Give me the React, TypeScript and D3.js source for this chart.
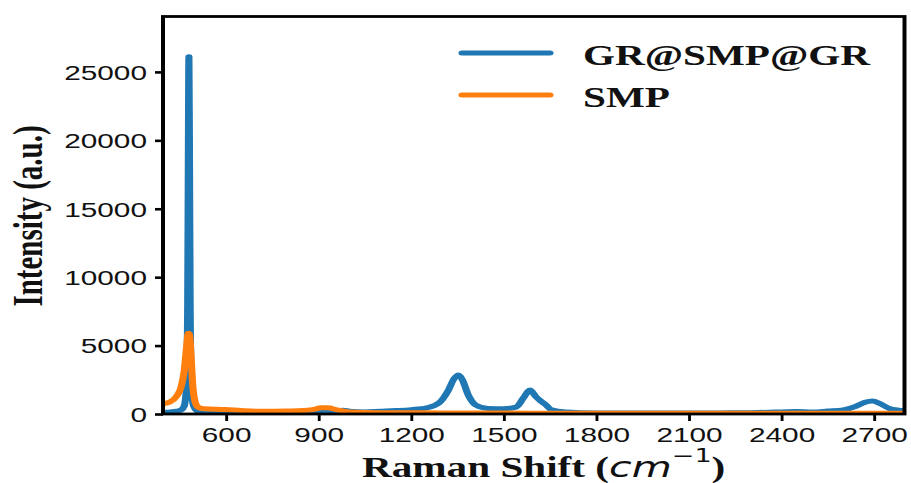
import React, { useEffect, useRef } from 'react';
import * as d3 from 'd3';

const xTicks = [600, 900, 1200, 1500, 1800, 2100, 2400, 2700];
const yTicks = [0, 5000, 10000, 15000, 20000, 25000];
const seriesNames = ['GR@SMP@GR', 'SMP'];
const seriesColors = ['#1f77b4', '#ff7f0e'];

// GR@SMP@GR spectrum
const grShift = [
  396, 420, 440, 455, 465, 472, 476, 478, 480, 482, 484, 488, 495, 505, 520, 560, 600, 700, 800, 900,
  950, 980, 1000, 1050, 1100, 1150, 1200, 1250, 1290, 1320, 1340, 1353, 1366, 1385, 1410, 1450, 1500,
  1540, 1565, 1585, 1605, 1620, 1635, 1655, 1700, 1800, 1900, 2000, 2100, 2200, 2300, 2400, 2450, 2500,
  2550, 2600, 2640, 2670, 2695, 2720, 2750, 2780, 2799,
];
const grIntensity = [
  120, 150, 200, 300, 600, 2000, 8000, 18000, 26100, 18000, 8000, 2000, 600, 250, 120, 80, 80, 80, 90, 150,
  220, 280, 200, 150, 200, 250, 320, 450, 800, 1700, 2600, 2850, 2500, 1400, 650, 400, 380,
  500, 1200, 1750, 1250, 950, 700, 300, 150, 80, 70, 70, 70, 80, 100, 150, 180, 150,
  220, 300, 550, 850, 950, 750, 400, 280, 250,
];

// SMP spectrum
const smpShift = [
  396, 420, 440, 455, 465, 472, 478, 482, 487, 492, 500, 510, 530, 600, 650, 700, 800, 850, 880, 910,
  930, 960, 1000, 1100, 1300, 1600, 2000, 2400, 2799,
];
const smpIntensity = [
  750, 900, 1300, 2000, 3200, 4800, 5900, 5800, 4200, 2200, 900, 500, 380, 330, 250, 200, 220, 250, 320, 450,
  450, 300, 150, 100, 80, 60, 50, 50, 50,
];

const App = () => {
  const ref = useRef<SVGSVGElement>(null);

  useEffect(() => {
    const K = 1.42; // the picture is stretched sideways
    const W = 911;
    const H = 483;
    const VW = W / K;
    const left = 163 / K;
    const right = 904.5 / K;
    const top = 16.5;
    const bottom = 414;

    const svg = d3.select(ref.current);
    svg.selectAll('*').remove();

    const x = d3.scaleLinear().domain([396, 2799]).range([left, right]);
    const y = d3.scaleLinear().domain([0, 29050]).range([bottom, top]);

    svg.append('defs').append('clipPath').attr('id', 'plot-clip')
      .append('rect')
      .attr('x', left).attr('y', top)
      .attr('width', right - left).attr('height', bottom - top);

    const plot = svg.append('g').attr('clip-path', 'url(#plot-clip)');

    const series = [
      { shift: grShift, values: grIntensity },
      { shift: smpShift, values: smpIntensity },
    ];
    series.forEach((s, k) => {
      const line = d3.line<number>()
        .x((_, i) => x(s.shift[i]))
        .y(d => y(d))
        .curve(d3.curveMonotoneX);
      plot.append('path')
        .attr('d', line(s.values))
        .attr('fill', 'none')
        .attr('stroke', seriesColors[k])
        .attr('stroke-width', 5)
        .attr('stroke-linejoin', 'round');
    });

    const xAxis = svg.append('g')
      .attr('transform', `translate(0,${bottom})`)
      .call(d3.axisBottom(x).tickValues(xTicks).tickFormat(d3.format('d')).tickSize(7).tickSizeOuter(0));
    xAxis.select('.domain').remove();
    xAxis.selectAll('line').attr('stroke', '#000').attr('stroke-width', 2);
    xAxis.selectAll('text')
      .attr('y', 28).attr('dy', 0)
      .attr('font-family', '"Liberation Sans", Arial, sans-serif')
      .attr('font-size', 21).attr('fill', '#111');

    const yAxis = svg.append('g')
      .attr('transform', `translate(${left},0)`)
      .call(d3.axisLeft(y).tickValues(yTicks).tickFormat(d3.format('d')).tickSize(8 / K).tickSizeOuter(0));
    yAxis.select('.domain').remove();
    yAxis.selectAll('line').attr('stroke', '#000').attr('stroke-width', 2.6);
    yAxis.selectAll('text')
      .attr('x', -(163 - 147) / K).attr('dy', '0.35em')
      .attr('font-family', '"Liberation Sans", Arial, sans-serif')
      .attr('font-size', 21).attr('fill', '#111');

    svg.append('rect')
      .attr('x', left).attr('y', top)
      .attr('width', right - left).attr('height', bottom - top)
      .attr('fill', 'none').attr('stroke', '#000').attr('stroke-width', 2.8);

    // legend
    const legendY = [53, 95];
    const legendTextY = [65, 107];
    seriesNames.forEach((name, k) => {
      svg.append('line')
        .attr('x1', 462 / K).attr('x2', 550 / K)
        .attr('y1', legendY[k]).attr('y2', legendY[k])
        .attr('stroke', seriesColors[k]).attr('stroke-width', 5)
        .attr('stroke-linecap', 'round');
      svg.append('text')
        .attr('x', 583 / K).attr('y', legendTextY[k])
        .attr('font-family', '"Liberation Serif", "Times New Roman", serif')
        .attr('font-weight', 'bold').attr('font-size', 29).attr('fill', '#111')
        .text(name);
    });

    // axis titles
    const xl = svg.append('text')
      .attr('x', 362 / K).attr('y', 477)
      .attr('font-family', '"Liberation Serif", "Times New Roman", serif')
      .attr('font-weight', 'bold').attr('font-size', 29).attr('fill', '#111');
    xl.append('tspan').text('Raman Shift (');
    xl.append('tspan')
      .attr('font-family', '"DejaVu Sans", sans-serif').attr('font-style', 'italic')
      .attr('font-weight', 'normal').text('cm');
    xl.append('tspan')
      .attr('font-family', '"DejaVu Sans", sans-serif').attr('font-weight', 'normal')
      .attr('font-size', 19).attr('dy', -15).text('\u22121');
    xl.append('tspan').attr('dy', 15).text(')');

    svg.append('text')
      .attr('transform', `translate(${42 / K},216) rotate(-90)`)
      .attr('text-anchor', 'middle')
      .attr('font-family', '"Liberation Serif", "Times New Roman", serif')
      .attr('font-weight', 'bold').attr('font-size', 29).attr('fill', '#111')
      .text('Intensity (a.u.)');

    svg.attr('viewBox', `0 0 ${VW} ${H}`);
  }, []);

  return (
    <svg
      ref={ref}
      width={911}
      height={483}
      preserveAspectRatio="none"
      style={{ position: 'absolute', left: 0, top: 0, background: '#fff' }}
    />
  );
};

export default App;
